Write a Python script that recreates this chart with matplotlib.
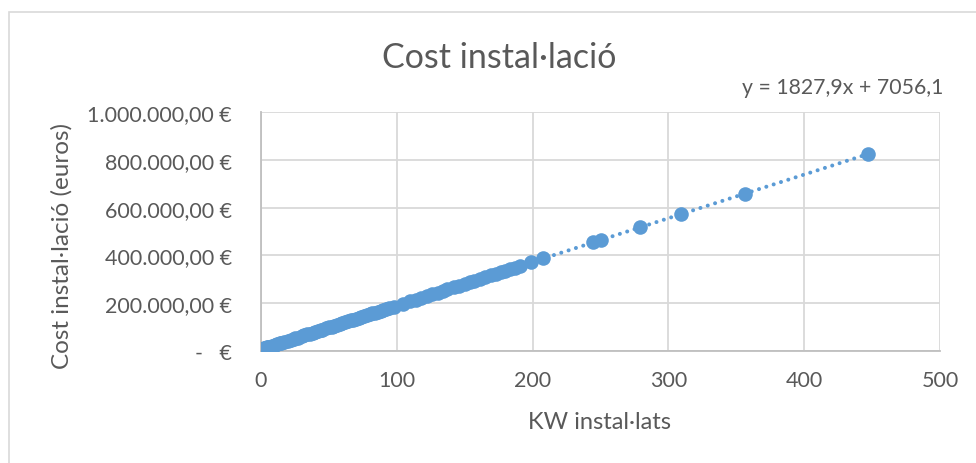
import numpy as np
import matplotlib
matplotlib.use('Agg')
from matplotlib import pyplot as plot
from matplotlib.patches import Rectangle
from matplotlib.ticker import FuncFormatter

# installed power (kW) and installation cost (euros) per installation
kw = [1, 2, 3, 4.5, 5, 6, 8, 10, 12, 14, 15, 17, 20, 22, 24, 25, 27, 30, 32, 34,
      36, 38, 40, 42, 44, 45, 48, 50, 52, 54, 56, 58, 60, 62, 64, 66, 68, 70, 72,
      74, 76, 78, 80, 82, 84, 86, 88, 90, 92, 94, 98, 104.5, 110, 114, 118, 122,
      126, 130, 134, 137, 142, 146, 150, 154, 157, 161, 165, 169, 173, 177, 180,
      183, 187, 191, 199, 208, 244.5, 250.5, 279, 309, 356.5, 447]
cost = [8884, 10712, 12540, 15282, 16196, 18024, 21679, 25335, 28991, 32647,
        34475, 38131, 43614, 47270, 50926, 52754, 56410, 61893, 65549, 69205,
        72861, 76516, 80172, 83828, 87484, 89312, 94796, 98451, 102107, 105763,
        109419, 113074, 116730, 120386, 124042, 127698, 131353, 135009, 138665,
        142321, 145977, 149632, 153288, 156944, 160600, 164256, 167911, 171567,
        175223, 178879, 186190, 198072, 208125, 215437, 222748, 230060, 237371,
        244683, 251995, 257479, 266618, 273929, 281241, 288553, 294036, 301348,
        308660, 315971, 323283, 330594, 336078, 341562, 348873, 356185, 370808,
        387259, 453978, 464945, 517040, 571877, 658702, 824127]

# linear trend shown on the chart
slope = 1827.9
intercept = 7056.1

blue = '#5B9BD5'
text_col = '#595959'
grid_col = '#D9D9D9'
axis_col = '#BFBFBF'
plot.rcParams['font.family'] = ['Lato', 'DejaVu Sans']


def euros(v, pos):
    if v == 0:
        return '-   €'
    s = '{:,.2f}'.format(v)
    s = s.replace(',', 'X').replace('.', ',').replace('X', '.')
    return s + ' €'


fig = plot.figure(figsize=(9.76, 4.64), dpi=100)
fig.patches.append(Rectangle((8.5 / 976, -0.1), 1.1, 1.1 - 13 / 464,
                             transform=fig.transFigure, fill=False,
                             edgecolor=grid_col, linewidth=1.2))

ax = fig.add_axes([261 / 976, 112 / 464, 679 / 976, 239 / 464])

xs = np.array([0, max(kw)])
ax.plot(xs, slope * xs + intercept, color=blue, linewidth=2.9,
        linestyle=(0, (0.01, 1.9)), dash_capstyle='round', zorder=2)
ax.plot(kw, cost, linestyle='None', marker='o', markersize=10.5,
        color=blue, markeredgewidth=0, zorder=3)

ax.set_xlim(0, 500)
ax.set_ylim(0, 1000000)
ax.set_xticks(range(0, 501, 100))
ax.set_yticks(range(0, 1000001, 200000))
ax.yaxis.set_major_formatter(FuncFormatter(euros))
ax.grid(True, color=grid_col, linewidth=1.3)
ax.set_axisbelow(True)
for side in ['top', 'right']:
    ax.spines[side].set_visible(False)
for side in ['left', 'bottom']:
    ax.spines[side].set_color(axis_col)
    ax.spines[side].set_linewidth(1.3)
ax.tick_params(length=0, labelsize=15.5, labelcolor=text_col)
ax.tick_params(axis='y', pad=21)
ax.tick_params(axis='x', pad=14)

fig.text(499 / 976, 1 - 58 / 464, 'Cost instal·lació', ha='center', va='center',
         fontsize=24.5, color=text_col)
fig.text(600 / 976, 1 - 423 / 464, 'KW instal·lats', ha='center', va='center',
         fontsize=17, color=text_col)
fig.text(62 / 976, 1 - 246 / 464, 'Cost instal·lació (euros)', ha='center',
         va='center', rotation=90, fontsize=17.5, color=text_col)
fig.text(843 / 976, 1 - 88 / 464,
         'y = {}x + {}'.format(str(slope).replace('.', ','),
                               str(intercept).replace('.', ',')),
         ha='center', va='center', fontsize=15.3, color=text_col)

fig.savefig('out.png', dpi=100)
